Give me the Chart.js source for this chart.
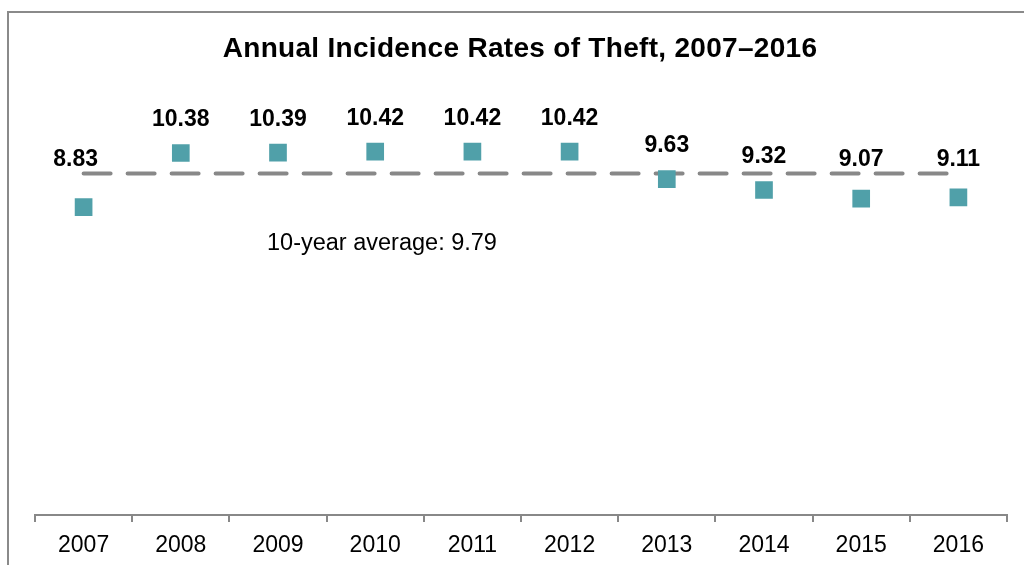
<!DOCTYPE html>
<html>
<head>
<meta charset="utf-8">
<script src="https://cdn.jsdelivr.net/npm/chart.js@4/dist/chart.umd.min.js"></script>
<style>
  html, body { margin: 0; padding: 0; background: #fff; overflow: hidden; }
  #wrap { position: relative; width: 1024px; height: 565px; }
  #chart { position: absolute; left: 0; top: 0; }
  /* outer frame, cut off on the right and bottom like the source */
  #frame {
    position: absolute; left: 7px; top: 11px; width: 2000px; height: 2000px;
    border-top: 2px solid #8a8a8a; border-left: 2px solid #8a8a8a;
    pointer-events: none;
  }
</style>
</head>
<body>
<div id="wrap">
  <canvas id="chart" width="1024" height="565"></canvas>
  <div id="frame"></div>
</div>
<script>
// ---- data ----
const years = ['2007', '2008', '2009', '2010', '2011', '2012', '2013', '2014', '2015', '2016'];
const rates = [8.83, 10.38, 10.39, 10.42, 10.42, 10.42, 9.63, 9.32, 9.07, 9.11];
const averageLine = [9.79, 9.79, 9.79, 9.79, 9.79, 9.79, 9.79, 9.79, 9.79, 9.79];
const averageText = '10-year average: 9.79';
const titleText = 'Annual Incidence Rates of Theft, 2007\u20132016';

const FONT = "'Liberation Sans', Arial, sans-serif";
const TEAL = '#50a0a9';
const GREY = '#888888';

// title, value labels and the average caption
const textLayer = {
  id: 'textLayer',
  afterDatasetsDraw(chart) {
    const ctx = chart.ctx;
    const meta = chart.getDatasetMeta(0);
    const yScale = chart.scales.y;
    const avgY = yScale.getPixelForValue(averageLine[0]);
    ctx.save();
    ctx.fillStyle = '#000';
    ctx.textBaseline = 'middle';

    // title
    ctx.font = 'bold 28px ' + FONT;
    ctx.textAlign = 'center';
    ctx.letterSpacing = '0.3px';
    ctx.fillText(titleText, 520, 49);
    ctx.letterSpacing = '0px';

    // values, kept clear of the dashed average line
    ctx.font = 'bold 23px ' + FONT;
    meta.data.forEach((pt, i) => {
      let y = Math.min(pt.y - 33, avgY - 14);
      let x = pt.x + (i === 0 ? -8 : 0);
      ctx.fillText(rates[i].toFixed(2), x, y);
    });

    // average caption
    ctx.font = '23.5px ' + FONT;
    ctx.textAlign = 'left';
    ctx.fillText(averageText, chart.chartArea.left + 232, avgY + 70);
    ctx.restore();
  }
};

new Chart(document.getElementById('chart').getContext('2d'), {
  type: 'line',
  data: {
    labels: years,
    datasets: [
      {
        label: 'Rate',
        data: rates,
        showLine: false,
        pointStyle: 'rect',
        pointRadius: 12.5,
        pointHoverRadius: 12.5,
        pointBackgroundColor: TEAL,
        pointBorderWidth: 0,
        borderColor: TEAL,
        order: 0,
      },
      {
        label: 'Average',
        data: averageLine,
        borderColor: GREY,
        borderWidth: 4,
        borderDash: [27, 17],
        borderCapStyle: 'round',
        pointRadius: 0,
        fill: false,
        order: 1,
      },
    ],
  },
  options: {
    responsive: false,
    animation: false,
    layout: { padding: { left: 35, right: 17, top: 96.5, bottom: 0 } },
    plugins: {
      legend: { display: false },
      tooltip: { enabled: false },
      title: { display: false },
    },
    scales: {
      x: {
        type: 'category',
        offset: true,
        grid: {
          offset: true,
          drawOnChartArea: false,
          drawTicks: true,
          tickLength: 7,
          color: GREY,
          lineWidth: 2,
        },
        border: { display: true, color: GREY, width: 2 },
        ticks: {
          color: '#000',
          font: { family: FONT, size: 23 },
          padding: 10,
          maxRotation: 0,
        },
        afterFit(scale) { scale.height = 50; },
      },
      y: {
        display: false,
        min: 0,
        max: 12,
      },
    },
  },
  plugins: [textLayer],
});
</script>
</body>
</html>
